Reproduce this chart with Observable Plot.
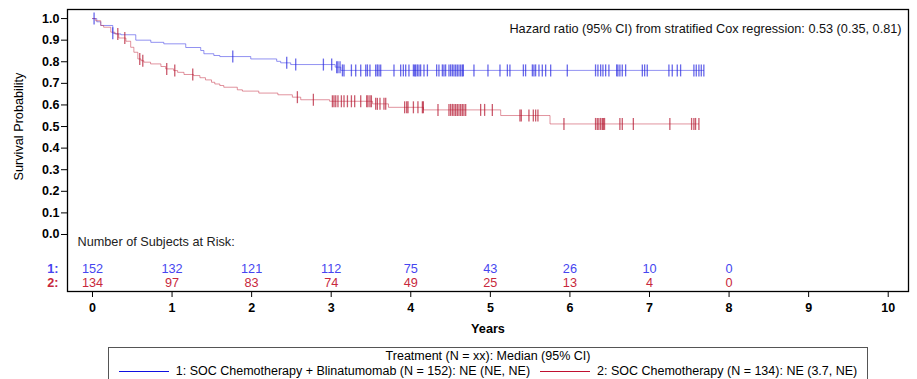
<!DOCTYPE html>
<html><head><meta charset="utf-8">
<script src="https://cdn.jsdelivr.net/npm/d3@7"></script>
<script src="https://cdn.jsdelivr.net/npm/@observablehq/plot@0.6"></script>
<style>
html,body{margin:0;padding:0;background:#fff;}
body{position:relative;width:917px;height:379px;overflow:hidden;font-family:"Liberation Sans",Arial,sans-serif;}
#chart svg{display:block;}
.legend{position:absolute;left:108px;top:347px;width:760px;height:40px;border:1px solid #555;box-sizing:border-box;
 font-family:"Liberation Sans Narrow","Arial Narrow","Liberation Sans",sans-serif;font-stretch:condensed;font-size:12.5px;color:#000;line-height:15px;}
.legend .t{text-align:center;padding-top:1px;}
.legend .row{display:flex;justify-content:center;align-items:center;white-space:nowrap;}
.legend .sw{display:inline-block;width:50px;height:1.5px;margin-right:7px;}
.legend .gap{display:inline-block;width:10px;}
</style></head><body>
<div id="chart"></div>
<div class="legend">
 <div class="t">Treatment (N = xx): Median (95% CI)</div>
 <div class="row"><span class="sw" style="background:#1010e0"></span><span>1: SOC Chemotherapy + Blinatumomab (N = 152): NE (NE, NE)</span><span class="gap"></span><span class="sw" style="background:#c01030"></span><span>2: SOC Chemotherapy (N = 134): NE (3.7, NE)</span></div>
</div>
<script>
// ---- data ----
const xTicks = [0,1,2,3,4,5,6,7,8,9,10];
const yTicks = [0,0.1,0.2,0.3,0.4,0.5,0.6,0.7,0.8,0.9,1.0];

// Arm 1: SOC Chemotherapy + Blinatumomab (step times in years, survival)
const blueTimes = [0,0.054,0.104,0.255,0.293,0.356,0.544,0.733,0.896,1.172,1.36,1.40,1.525,1.60,1.989,2.315,2.365,2.491,3.05,3.12,7.683];
const blueSurv  = [1.0,0.985,0.968,0.932,0.929,0.925,0.90,0.89,0.883,0.866,0.852,0.837,0.829,0.824,0.813,0.802,0.795,0.787,0.775,0.760,0.760];
const blueCensor = [0.02,0.255,1.763,2.441,2.554,2.902,3.006,3.069,3.085,3.111,3.141,3.161,3.254,3.308,3.371,3.434,3.455,3.487,3.559,3.580,3.601,3.622,3.789,3.873,3.907,3.936,3.977,4.033,4.049,4.062,4.083,4.103,4.124,4.166,4.209,4.325,4.354,4.397,4.417,4.438,4.480,4.501,4.523,4.543,4.564,4.585,4.606,4.627,4.648,4.661,4.794,4.970,5.121,5.214,5.246,5.415,5.443,5.528,5.548,5.569,5.611,5.653,5.695,5.758,5.967,6.322,6.352,6.386,6.415,6.449,6.490,6.587,6.603,6.628,6.658,6.700,6.910,6.939,6.972,7.244,7.286,7.349,7.391,7.558,7.588,7.621,7.651,7.683];

// Arm 2: SOC Chemotherapy
const redTimes = [0,0.04,0.104,0.14,0.23,0.28,0.33,0.42,0.48,0.52,0.57,0.61,0.645,0.73,0.86,0.92,1.02,1.07,1.15,1.27,1.35,1.42,1.496,1.537,1.60,1.65,1.82,1.884,2.09,2.33,2.512,2.617,2.98,3.52,3.72,4.16,5.13,5.75,7.621];
const redSurv  = [1.0,0.99,0.968,0.96,0.937,0.929,0.91,0.895,0.867,0.844,0.813,0.805,0.798,0.79,0.778,0.767,0.759,0.751,0.741,0.736,0.726,0.716,0.705,0.697,0.69,0.682,0.67,0.664,0.655,0.647,0.636,0.624,0.617,0.605,0.589,0.577,0.551,0.512,0.512];
const redCensor = [0.318,0.406,0.594,0.632,0.933,1.034,1.260,2.575,2.776,3.015,3.035,3.057,3.085,3.128,3.161,3.204,3.254,3.295,3.371,3.446,3.462,3.487,3.505,3.559,3.580,3.613,3.663,3.685,3.923,3.949,3.965,4.033,4.090,4.146,4.158,4.342,4.480,4.501,4.523,4.543,4.564,4.585,4.606,4.627,4.648,4.668,4.690,4.878,4.928,5.025,5.372,5.389,5.485,5.540,5.569,5.598,5.925,6.322,6.344,6.364,6.386,6.407,6.420,6.435,6.628,6.658,6.797,7.256,7.529,7.558,7.579,7.621];

// Number at risk
const riskYears = [0,1,2,3,4,5,6,7,8];
const risk1 = [152,132,121,112,75,43,26,10,0];
const risk2 = [134,97,83,74,49,25,13,4,0];

const hazardText = "Hazard ratio (95% CI) from stratified Cox regression: 0.53 (0.35, 0.81)";

// ---- build ----
const BLUE = "#4646f0", RED = "#c8283c";
const FS = 12.7;
const survAt = (times, surv, t) => { let s = surv[0]; for (let i = 0; i < times.length; i++) if (times[i] <= t) s = surv[i]; return s; };
const blueCurve = blueTimes.map((t, i) => ({t, s: blueSurv[i]}));
const redCurve = redTimes.map((t, i) => ({t, s: redSurv[i]}));
const vbar = {draw(ctx, size) { const h = Math.sqrt(size / Math.PI); ctx.moveTo(0, -h); ctx.lineTo(0, h); }};
const yMid = (d3.min(yTicks) + d3.max(yTicks)) / 2;

const chart = Plot.plot({
  width: 917, height: 345,
  marginLeft: 67, marginRight: 9, marginTop: 9, marginBottom: 54,
  style: {fontFamily: "'Liberation Sans', Arial, sans-serif", fontSize: FS + "px", color: "#000", background: "#fff"},
  x: {domain: [-0.314, 10.255]},
  y: {domain: [-0.264, 1.042]},
  marks: [
    Plot.axisY({ticks: yTicks, tickFormat: d3.format(".1f"), tickSize: 6, tickPadding: 2, label: null, fontWeight: "bold", fontSize: 12.5}),
    Plot.axisX({ticks: xTicks, tickFormat: d3.format("d"), tickSize: 6, tickPadding: 6, label: null, fontWeight: "bold", fontSize: 12.5}),
    Plot.line(blueCurve, {x: "t", y: "s", curve: "step-after", stroke: "#4a4ae8", strokeOpacity: 0.6, strokeWidth: 1}),
    Plot.line(redCurve, {x: "t", y: "s", curve: "step-after", stroke: "#c83c50", strokeOpacity: 0.55, strokeWidth: 1}),
    Plot.dot(blueCensor, {x: d => d, y: d => survAt(blueTimes, blueSurv, d), symbol: vbar, r: 6, fill: "none", stroke: "#2828e0", strokeOpacity: 0.7, strokeWidth: 1.3}),
    Plot.dot(redCensor, {x: d => d, y: d => survAt(redTimes, redSurv, d), symbol: vbar, r: 6, fill: "none", stroke: "#b4142d", strokeOpacity: 0.7, strokeWidth: 1.3}),
    Plot.text([hazardText], {text: d => d, frameAnchor: "top-right", dx: -7, dy: 14, textAnchor: "end", fill: "#111", fontSize: FS}),
    Plot.text(["Number of Subjects at Risk:"], {text: d => d, frameAnchor: "bottom-left", dx: 10, dy: -46, textAnchor: "start", fill: "#222", fontSize: FS}),
    Plot.text(riskYears, {x: d => d, text: (d, i) => String(risk1[i]), frameAnchor: "bottom", dy: -19, fill: BLUE, fontSize: FS}),
    Plot.text(riskYears, {x: d => d, text: (d, i) => String(risk2[i]), frameAnchor: "bottom", dy: -4.5, fill: RED, fontSize: FS}),
    Plot.text(["1:"], {text: d => d, frameAnchor: "bottom-left", dx: -9, dy: -19, textAnchor: "end", fontWeight: "bold", fill: BLUE, fontSize: FS}),
    Plot.text(["2:"], {text: d => d, frameAnchor: "bottom-left", dx: -9, dy: -4.5, textAnchor: "end", fontWeight: "bold", fill: RED, fontSize: FS}),
    Plot.text(["Survival Probability"], {text: d => d, y: () => yMid, frameAnchor: "left", dx: -49, rotate: -90, textAnchor: "middle", fontSize: FS}),
    Plot.text(["Years"], {text: d => d, frameAnchor: "bottom", dy: 41, fontWeight: "bold", fontSize: FS}),
    Plot.frame({stroke: "#000", strokeWidth: 1.3})
  ]
});
document.getElementById("chart").appendChild(chart);
</script>
</body></html>
